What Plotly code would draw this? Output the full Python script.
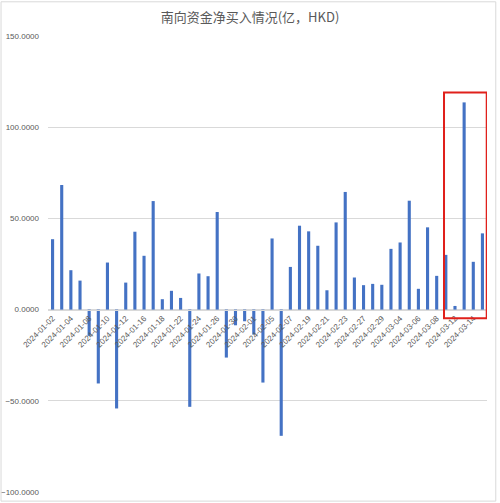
import plotly.graph_objects as go

# trading days (southbound), 2024-01-02 .. 2024-03-15
dates = [
    "2024-01-02", "2024-01-03", "2024-01-04", "2024-01-05", "2024-01-08", "2024-01-09",
    "2024-01-10", "2024-01-11", "2024-01-12", "2024-01-15", "2024-01-16", "2024-01-17",
    "2024-01-18", "2024-01-19", "2024-01-22", "2024-01-23", "2024-01-24", "2024-01-25",
    "2024-01-26", "2024-01-29", "2024-01-30", "2024-01-31", "2024-02-01", "2024-02-02",
    "2024-02-05", "2024-02-06", "2024-02-07", "2024-02-08", "2024-02-19", "2024-02-20",
    "2024-02-21", "2024-02-22", "2024-02-23", "2024-02-26", "2024-02-27", "2024-02-28",
    "2024-02-29", "2024-03-01", "2024-03-04", "2024-03-05", "2024-03-06", "2024-03-07",
    "2024-03-08", "2024-03-11", "2024-03-12", "2024-03-13", "2024-03-14", "2024-03-15",
]

# net buying, 100M HKD
net_buy = [
    38.6, 68.3, 21.6, 15.9, -14.4, -40.5, 25.8, -54.2, 14.8, 42.7, 29.5, 59.5,
    5.7, 10.3, 6.4, -53.3, 19.8, 18.3, 53.5, -26.3, -8.6, -6.4, -13.7, -40.0,
    39.0, -69.2, 23.4, 46.0, 42.9, 35.0, 10.6, 47.8, 64.5, 17.6, 13.4, 14.1,
    13.6, 33.3, 36.8, 59.7, 11.4, 45.1, 18.5, 30.0, 2.0, 113.6, 26.2, 41.8,
]

y_ticks = [-100, -50, 0, 50, 100, 150]
tick_dates = dates[::2]

# highlighted last days
hl_first, hl_last = "2024-03-11", "2024-03-15"
hl_low, hl_high = -4.7, 119.0

y_min, y_max = y_ticks[0], y_ticks[-1]
grey = "#595959"
grid = "#d9d9d9"

fig = go.Figure()
fig.add_trace(go.Bar(x=dates, y=net_buy, marker=dict(color="#4472c4", line=dict(width=0))))

i0 = dates.index(hl_first)
i1 = dates.index(hl_last)
fig.add_shape(type="rect", xref="x", yref="y",
              x0=i0 - 0.2, x1=i1 + 0.47, y0=hl_low, y1=hl_high,
              line=dict(color="#e0201b", width=2), fillcolor="rgba(0,0,0,0)")

# outer chart border
fig.add_shape(type="rect", xref="paper", yref="paper",
              x0=-0.107, x1=1.02, y0=-0.02, y1=1.075,
              line=dict(color="#d9d9d9", width=1))

fig.update_layout(
    width=500, height=503,
    margin=dict(l=48, r=13, t=36, b=11),
    paper_bgcolor="white", plot_bgcolor="white",
    showlegend=False,
    bargap=0.66,
    font=dict(family="Liberation Sans, Arial, sans-serif", color=grey, size=8),
    title=dict(text="南向资金净买入情况(亿，HKD)", x=0.5, xanchor="center", y=0.966, yanchor="middle",
               font=dict(family="Noto Sans CJK SC", size=13, color=grey)),
    xaxis=dict(
        type="category",
        range=[-0.5, len(dates) - 0.5],
        anchor="free",
        position=(0 - y_min) / (y_max - y_min),
        tickmode="array", tickvals=tick_dates, ticktext=tick_dates,
        tickangle=-45,
        tickfont=dict(size=8, color=grey),
        showline=True, linecolor=grid, linewidth=1,
        showgrid=False, ticks="",
        automargin=False,
    ),
    yaxis=dict(
        range=[y_min, y_max],
        tickvals=y_ticks,
        tickformat=".4f",
        tickfont=dict(size=8, color=grey),
        showgrid=True, gridcolor=grid, gridwidth=1,
        zeroline=False, showline=False, ticks="",
        ticklabelstandoff=8,
        automargin=False,
    ),
)

# drop the default body margin so the figure fills the window
fig.write_html("out.html", config={"displayModeBar": False},
               post_script="document.body.style.margin='0px';")
